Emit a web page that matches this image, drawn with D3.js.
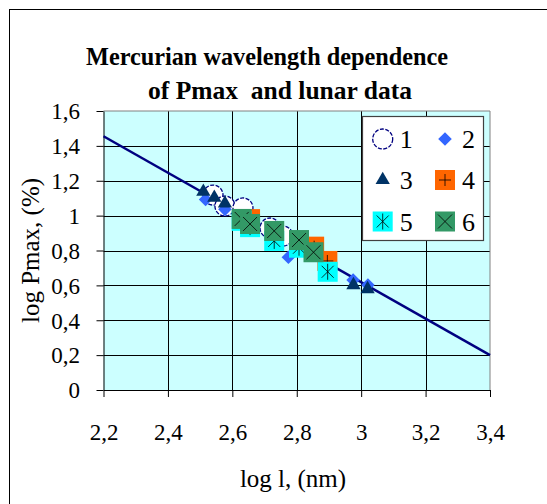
<!DOCTYPE html>
<html>
<head>
<meta charset="utf-8">
<title>Mercurian wavelength dependence</title>
<style>
  body { margin: 0; background: #fff; }
</style>
</head>
<body>
<svg width="547" height="504"></svg>
<script src="https://d3js.org/d3.v7.min.js"></script>
<script>

    // series values (log lambda, log Pmax)
    var s1X = [2.54, 2.577, 2.633, 2.717, 2.757];
    var s1Y = [1.118, 1.055, 1.044, 0.929, 0.883];
    var s2X = [2.517, 2.577, 2.774, 2.975, 3.021];
    var s2Y = [1.093, 1.036, 0.761, 0.631, 0.602];
    var s3X = [2.51, 2.544, 2.577, 2.976, 3.02];
    var s3Y = [1.137, 1.103, 1.07, 0.602, 0.579];
    var s4X = [2.655, 2.854, 2.895];
    var s4Y = [0.98, 0.822, 0.74];
    var s5X = [2.629, 2.655, 2.73, 2.807, 2.896];
    var s5Y = [0.97, 0.934, 0.855, 0.816, 0.678];
    var s6X = [2.629, 2.655, 2.73, 2.807, 2.852];
    var s6Y = [0.981, 0.952, 0.912, 0.86, 0.79];

    // linear trend
    var trendX = [2.2, 3.4];
    var trendY = [1.455, 0.2];

    var xTicks = [2.2, 2.4, 2.6, 2.8, 3.0, 3.2, 3.4];
    var xTickLabels = ["2,2", "2,4", "2,6", "2,8", "3", "3,2", "3,4"];
    var yTicks = [0, 0.2, 0.4, 0.6, 0.8, 1.0, 1.2, 1.4, 1.6];
    var yTickLabels = ["0", "0,2", "0,4", "0,6", "0,8", "1", "1,2", "1,4", "1,6"];
    var seriesNames = ["1", "2", "3", "4", "5", "6"];

    var serif = "'Liberation Serif', 'Times New Roman', Times, serif";

    var svg = d3.select("svg").style("font-family", serif);

    // outer chart frame (runs off the right and bottom of the picture)
    svg.append("rect")
        .attr("x", 9.5).attr("y", 9.5)
        .attr("width", 600).attr("height", 600)
        .attr("fill", "none").attr("stroke", "#000");

    var x = d3.scaleLinear().domain([2.2, 3.4]).range([103.5, 490]);
    var y = d3.scaleLinear().domain([0, 1.6]).range([390, 111]);

    // plot area
    svg.append("rect")
        .attr("x", x(2.2)).attr("y", y(1.6))
        .attr("width", x(3.4) - x(2.2)).attr("height", y(0) - y(1.6))
        .attr("fill", "#ccffff");

    var grid = svg.append("g").attr("stroke", "#000").attr("stroke-width", 1);
    grid.selectAll(".gx").data(xTicks.slice(1, -1)).enter().append("line")
        .attr("x1", function (d) { return Math.round(x(d)) + 0.5; })
        .attr("x2", function (d) { return Math.round(x(d)) + 0.5; })
        .attr("y1", y(1.6)).attr("y2", y(0));
    grid.selectAll(".gy").data(yTicks.slice(1, -1)).enter().append("line")
        .attr("y1", function (d) { return Math.round(y(d)) + 0.5; })
        .attr("y2", function (d) { return Math.round(y(d)) + 0.5; })
        .attr("x1", x(2.2)).attr("x2", x(3.4));

    svg.append("path")
        .attr("d", "M" + x(3.4) + "," + y(0) + "V" + y(1.6) + "H" + x(2.2))
        .attr("fill", "none").attr("stroke", "#808080");

    // axes
    var yAxis = svg.append("g")
        .attr("transform", "translate(" + x(2.2) + ",0)")
        .call(d3.axisLeft(y).tickValues(yTicks).tickSize(7).tickSizeOuter(0)
            .tickFormat(function (d, i) { return yTickLabels[i]; }));
    yAxis.selectAll("text")
        .attr("x", -23.5).attr("dy", "0.34em");

    var xAxis = svg.append("g")
        .attr("transform", "translate(0," + y(0) + ")")
        .call(d3.axisBottom(x).tickValues(xTicks).tickSize(7).tickSizeOuter(0)
            .tickFormat(function (d, i) { return xTickLabels[i]; }));
    xAxis.selectAll("text")
        .attr("y", 50).attr("dy", 0);

    svg.selectAll(".tick text")
        .attr("fill", "#000")
        .style("font-family", serif)
        .style("font-size", "23px");
    svg.selectAll(".domain, .tick line").attr("stroke", "#000");

    // trend line
    var line = d3.line()
        .x(function (d) { return x(d[0]); })
        .y(function (d) { return y(d[1]); });
    svg.append("path")
        .datum(d3.zip(trendX, trendY))
        .attr("d", line)
        .attr("fill", "none")
        .attr("stroke", "#000080")
        .attr("stroke-width", 2.5);

    // marker drawing
    function drawMarker(g, k) {
        if (k === 0) {
            g.append("circle").attr("r", 10).attr("fill", "#fff")
                .attr("stroke", "#000080").attr("stroke-width", 1.3)
                .attr("stroke-dasharray", "4,1.5");
        } else if (k === 1) {
            g.append("path").attr("d", d3.symbol(d3.symbolSquare, 92)())
                .attr("transform", "rotate(45)").attr("fill", "#3366ff");
        } else if (k === 2) {
            g.append("path").attr("d", d3.symbol(d3.symbolTriangle, 88)())
                .attr("fill", "#003366");
        } else {
            var fills = ["#ff6600", "#00ffff", "#339966"];
            g.append("rect").attr("x", -10).attr("y", -10)
                .attr("width", 20).attr("height", 20)
                .attr("fill", fills[k - 3]);
            var p = "";
            if (k === 3) p = "M-6,0H6M0,-6V6";
            if (k === 4) p = "M-6,-6L6,6M6,-6L-6,6M0,-8V8";
            if (k === 5) p = "M-7,-7L7,7M7,-7L-7,7";
            g.append("path").attr("d", p).attr("stroke", "#000")
                .attr("stroke-width", 0.8).attr("fill", "none");
        }
    }

    var allX = [s1X, s2X, s3X, s4X, s5X, s6X];
    var allY = [s1Y, s2Y, s3Y, s4Y, s5Y, s6Y];

    allX.forEach(function (xs, k) {
        var pts = d3.zip(xs, allY[k]);
        svg.append("g").selectAll("g").data(pts).enter().append("g")
            .attr("transform", function (d) { return "translate(" + x(d[0]) + "," + y(d[1]) + ")"; })
            .each(function () { drawMarker(d3.select(this), k); });
    });

    // legend
    var lg = svg.append("g");
    lg.append("rect")
        .attr("x", 362.5).attr("y", 116.5).attr("width", 121).attr("height", 124)
        .attr("fill", "#fff").attr("stroke", "#404040").attr("stroke-width", 1.2);
    var legX = [382.7, 445];
    var legY = [139, 180, 221.5];
    seriesNames.forEach(function (name, k) {
        var cx = legX[k % 2], cy = legY[Math.floor(k / 2)];
        var g = lg.append("g").attr("transform", "translate(" + cx + "," + cy + ")");
        drawMarker(g, k);
        lg.append("text")
            .attr("x", cx + 17).attr("y", cy + 9)
            .style("font-family", serif)
            .style("font-size", "26px")
            .text(name);
    });

    // titles
    svg.append("text")
        .attr("x", 267).attr("y", 65)
        .attr("text-anchor", "middle")
        .attr("textLength", 362).attr("lengthAdjust", "spacingAndGlyphs")
        .style("font-family", serif)
        .style("font-size", "26px").style("font-weight", "bold")
        .text("Mercurian wavelength dependence");
    svg.append("text")
        .attr("x", 280).attr("y", 99)
        .attr("text-anchor", "middle")
        .attr("textLength", 264).attr("lengthAdjust", "spacingAndGlyphs")
        .style("font-family", serif)
        .style("font-size", "26px").style("font-weight", "bold")
        .style("white-space", "pre")
        .text("of Pmax  and lunar data");

    svg.append("text")
        .attr("x", 293).attr("y", 487)
        .attr("text-anchor", "middle")
        .style("font-family", serif)
        .style("font-size", "25px")
        .text("log l, (nm)");

    svg.append("text")
        .attr("transform", "translate(39," + ((y(0) + y(1.6)) / 2) + ") rotate(-90)")
        .attr("text-anchor", "middle")
        .style("font-family", serif)
        .style("font-size", "25px")
        .text("log Pmax, (%)");

</script>
</body>
</html>
